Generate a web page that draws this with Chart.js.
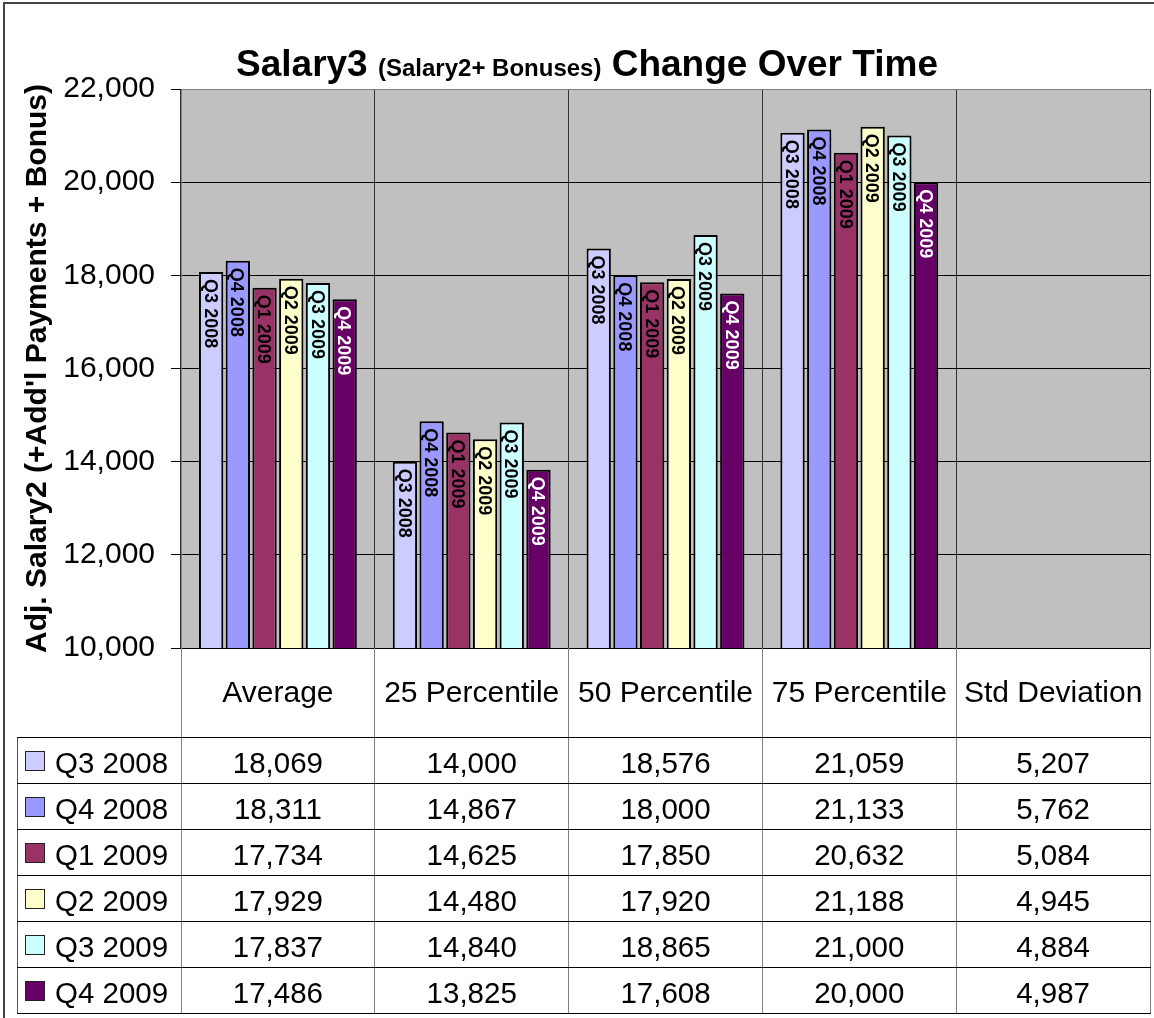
<!DOCTYPE html>
<html><head><meta charset="utf-8">
<script src="https://cdn.jsdelivr.net/npm/chart.js@4/dist/chart.umd.min.js"></script>
<style>
html,body{margin:0;padding:0;background:#fff;}
body{width:1154px;height:1018px;position:relative;overflow:hidden;font-family:"Liberation Sans",Arial,sans-serif;}
#frame{position:absolute;left:3px;top:2px;width:1200px;height:1100px;border-left:2px solid #444;border-top:2px solid #444;}
#c{position:absolute;left:0;top:0;}
#title{position:absolute;left:0;top:42px;width:1174px;text-align:center;font-weight:bold;font-size:37px;line-height:44px;color:#000;white-space:nowrap;}
#title .small{font-size:24px;}
.ln{position:absolute;}
.cell{position:absolute;text-align:center;font-size:29.5px;line-height:46px;color:#000;white-space:nowrap;}
.sw{position:absolute;width:18px;height:18px;border:1px solid #222;}
</style></head><body>
<div id="frame"></div>
<canvas id="c" width="1154" height="1018"></canvas>
<div id="title">Salary3 <span class="small">(Salary2+ Bonuses)</span> Change Over Time</div>
<div id="table"></div>
<script>
// ---- data ----
const categories = ['Average', '25 Percentile', '50 Percentile', '75 Percentile', 'Std Deviation'];
const seriesNames = ['Q3 2008', 'Q4 2008', 'Q1 2009', 'Q2 2009', 'Q3 2009', 'Q4 2009'];
const q3_2008 = [18069, 14000, 18576, 21059, 5207];
const q4_2008 = [18311, 14867, 18000, 21133, 5762];
const q1_2009 = [17734, 14625, 17850, 20632, 5084];
const q2_2009 = [17929, 14480, 17920, 21188, 4945];
const q3_2009 = [17837, 14840, 18865, 21000, 4884];
const q4_2009 = [17486, 13825, 17608, 20000, 4987];
const seriesData = [q3_2008, q4_2008, q1_2009, q2_2009, q3_2009, q4_2009];
const yMin = 10000, yMax = 22000, yStep = 2000;
const yTitle = "Adj. Salary2 (+Add'l Payments + Bonus)";

// ---- styles ----
const seriesColors = ['#CCCCFF', '#9999FF', '#993366', '#FFFFCC', '#CCFFFF', '#660066'];
const labelColors = ['#000', '#000', '#000', '#000', '#000', '#fff'];
const FONT = '"Liberation Sans", Arial, sans-serif';
const fmt = v => Number(v).toLocaleString('en-US');

const bgPlugin = {
  id: 'plotBg',
  beforeDraw(chart) {
    const {ctx, chartArea: a} = chart;
    ctx.save();
    ctx.fillStyle = '#C0C0C0';
    ctx.fillRect(a.left, a.top, a.right - a.left, a.bottom - a.top);
    ctx.restore();
  }
};

const barLabelPlugin = {
  id: 'barLabels',
  afterDatasetsDraw(chart) {
    const ctx = chart.ctx;
    const min = chart.scales.y.min;
    chart.data.datasets.forEach((ds, di) => {
      const meta = chart.getDatasetMeta(di);
      meta.data.forEach((bar, i) => {
        if (ds.data[i] < min) return;
        ctx.save();
        ctx.translate(bar.x, bar.y + 7);
        ctx.rotate(Math.PI / 2);
        ctx.font = 'bold 18px ' + FONT;
        ctx.fillStyle = labelColors[di];
        ctx.textAlign = 'left';
        ctx.textBaseline = 'alphabetic';
        ctx.fillText(ds.label, 0, 6.4);
        ctx.restore();
      });
    });
  }
};

const chart = new Chart(document.getElementById('c'), {
  type: 'bar',
  data: {
    labels: categories,
    datasets: seriesNames.map((n, i) => ({
      label: n,
      data: seriesData[i],
      backgroundColor: seriesColors[i],
      borderColor: '#000',
      borderWidth: 2,
      borderSkipped: false,
      clip: 0,
      categoryPercentage: 0.827,
      barPercentage: 0.91
    }))
  },
  options: {
    responsive: false,
    animation: false,
    devicePixelRatio: 1,
    layout: {padding: {left: 10, top: 89, right: 4, bottom: 281}},
    plugins: {legend: {display: false}, title: {display: false}, tooltip: {enabled: false}},
    scales: {
      x: {
        grid: {color: '#333', drawTicks: false, offset: true},
        border: {color: '#000'},
        ticks: {font: {size: 30, family: FONT}, color: '#000', padding: 28, maxRotation: 0, minRotation: 0, autoSkip: false},
        afterFit(s) { s.height = 89; s.paddingLeft = 0; s.paddingRight = 0; }
      },
      y: {
        min: yMin, max: yMax, beginAtZero: false,
        ticks: {stepSize: yStep, font: {size: 30, family: FONT}, color: '#000', padding: 16, callback: v => fmt(v)},
        grid: {color: c => (c.tick && c.tick.value === yMax) ? '#808080' : '#000', tickColor: '#000', tickLength: 10},
        border: {color: '#808080'},
        title: {display: true, text: yTitle, font: {size: 30, weight: 'bold', family: FONT}, color: '#000', padding: {top: 10, bottom: 0}},
        afterFit(s) { s.width = 171; s.paddingTop = 0; s.paddingBottom = 0; }
      }
    }
  },
  plugins: [bgPlugin, barLabelPlugin]
});

// ---- data table (HTML) aligned with chart columns ----
(function buildTable() {
  const host = document.getElementById('table');
  const a = chart.chartArea;
  const n = categories.length;
  const edges = [];
  for (let i = 0; i <= n; i++) edges.push(a.left + (a.right - a.left) * i / n);
  const headerBottom = a.bottom + 89;
  const rowH = 46;
  const tableLeft = 17;
  const tableBottom = headerBottom + rowH * seriesNames.length;
  const add = (cls, style, html) => {
    const d = document.createElement('div');
    d.className = cls;
    Object.assign(d.style, style);
    if (html !== undefined) d.textContent = html;
    host.appendChild(d);
    return d;
  };
  edges.forEach(e => {
    add('ln', {left: Math.round(e - 0.5) + 'px', top: a.bottom + 'px', width: '1px', height: (tableBottom - a.bottom + 1) + 'px', background: '#808080'});
  });
  add('ln', {left: tableLeft + 'px', top: headerBottom + 'px', width: '1px', height: (tableBottom - headerBottom + 1) + 'px', background: '#555'});
  for (let k = 0; k <= seriesNames.length; k++) {
    add('ln', {left: tableLeft + 'px', top: (headerBottom + k * rowH) + 'px', width: (Math.round(a.right) - tableLeft + 1) + 'px', height: '1px', background: '#000'});
  }
  seriesNames.forEach((name, r) => {
    const top = headerBottom + r * rowH;
    add('sw', {left: '25px', top: (top + 14) + 'px', background: seriesColors[r]});
    add('cell', {left: '55px', top: (top + 3) + 'px', height: rowH + 'px', textAlign: 'left'}, name);
    seriesData[r].forEach((v, j) => {
      add('cell', {left: edges[j] + 'px', top: (top + 3) + 'px', width: (edges[j + 1] - edges[j]) + 'px', height: rowH + 'px'}, fmt(v));
    });
  });
})();
</script>
</body></html>
